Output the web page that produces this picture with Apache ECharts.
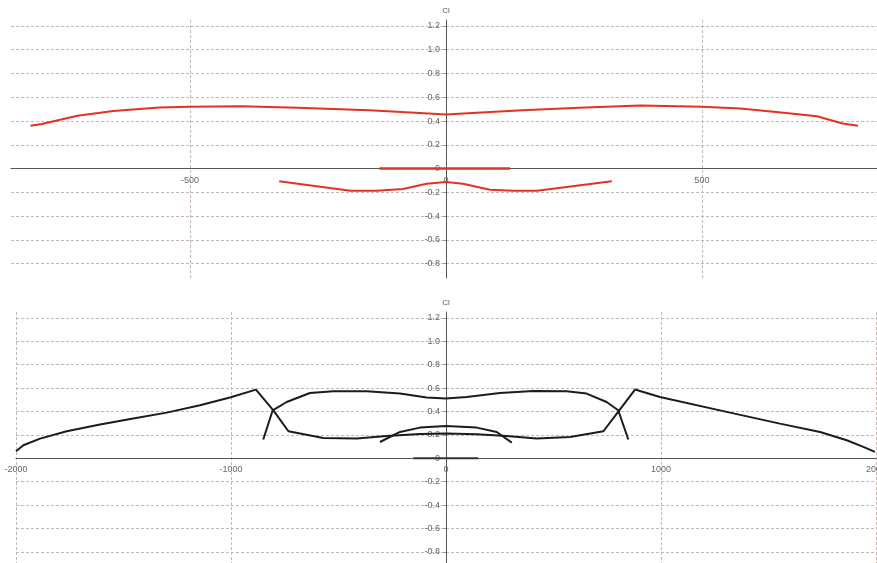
<!DOCTYPE html>
<html>
<head>
<meta charset="utf-8">
<script src="https://cdn.jsdelivr.net/npm/echarts@6/dist/echarts.min.js"></script>
<style>
  html, body { margin: 0; padding: 0; background: #fff; }
  #chart { width: 877px; height: 563px; }
</style>
</head>
<body>
<div id="chart"></div>
<script>
// top plot (red), x in [-850, 850]
const topUpper = [
  [-812, 0.36], [-790, 0.375], [-720, 0.445], [-650, 0.485], [-560, 0.515], [-500, 0.52],
  [-400, 0.525], [-290, 0.512], [-150, 0.49], [-60, 0.47], [0, 0.455], [60, 0.47],
  [150, 0.49], [260, 0.512], [380, 0.53], [500, 0.52], [575, 0.505], [650, 0.475],
  [725, 0.44], [775, 0.38], [805, 0.36]
];
const topLower = [
  [-326, -0.107], [-187, -0.186], [-135, -0.186], [-84, -0.172], [-38, -0.127], [0, -0.112],
  [33, -0.127], [86, -0.177], [131, -0.186], [178, -0.186], [324, -0.107]
];
const topFlat = [[-130, 0], [125, 0]];

// bottom plot (black), x in [-2000, 2000]
const botOuter = [
  [-2000, 0.06], [-1966, 0.111], [-1888, 0.168], [-1764, 0.231], [-1609, 0.288], [-1455, 0.339],
  [-1299, 0.39], [-1144, 0.453], [-1005, 0.519], [-884, 0.587], [-803, 0.41], [-733, 0.231],
  [-571, 0.174], [-415, 0.168], [-276, 0.191], [-121, 0.208], [0, 0.211], [143, 0.205],
  [282, 0.191], [422, 0.168], [577, 0.182], [732, 0.231], [806, 0.41], [879, 0.587],
  [995, 0.524], [1321, 0.39], [1553, 0.296], [1740, 0.225], [1864, 0.154], [1941, 0.097],
  [1995, 0.054]
];
const botLoop = [
  [-850, 0.16], [-806, 0.41], [-741, 0.481], [-633, 0.558], [-524, 0.573], [-369, 0.573],
  [-214, 0.553], [-90, 0.519], [0, 0.51], [96, 0.524], [251, 0.558], [406, 0.575],
  [561, 0.573], [654, 0.553], [747, 0.481], [801, 0.41], [848, 0.16]
];
const botArch = [
  [-307, 0.139], [-214, 0.225], [-121, 0.262], [0, 0.276], [143, 0.262], [236, 0.225], [306, 0.134]
];
const botFlat = [[-152, 0], [150, 0]];

const yTicks = [-0.8, -0.6, -0.4, -0.2, 0, 0.2, 0.4, 0.6, 0.8, 1.0, 1.2];
const topXTicks = [-500, 0, 500];

const gridLine = { show: true, lineStyle: { color: '#c4b8b1', type: [3, 2], width: 1 } };
const axLine = { onZero: false, lineStyle: { color: '#555', width: 1 } };
const lbl = { color: '#666', fontSize: 9, fontFamily: 'Liberation Sans, Arial, sans-serif' };
const yFmt = v => (v === 0 ? '0' : v.toFixed(1));
const xFmt = v => String(v);

// axes sit on the zero lines, moved in from the grid edges by offset
function yAx(grid, min, max, offset) {
  return {
    type: 'value', gridIndex: grid, min: min, max: max,
    position: 'left', offset: offset,
    name: 'Cl', nameLocation: 'end', nameGap: 5,
    nameTextStyle: { color: '#555', fontSize: 8 },
    axisLine: axLine,
    axisTick: { show: true, length: 3, lineStyle: { color: '#999' }, customValues: yTicks },
    axisLabel: Object.assign({ customValues: yTicks, formatter: yFmt, margin: 6 }, lbl),
    splitLine: gridLine
  };
}

function line(data, x, color, width) {
  return {
    type: 'line', xAxisIndex: x, yAxisIndex: x, data: data,
    showSymbol: false, symbol: 'none', silent: true,
    lineStyle: { color: color, width: width }
  };
}

const red = '#e5321f';
const black = '#1c1c1c';

const option = {
  animation: false,
  backgroundColor: '#fff',
  grid: [
    { left: 11, width: 870, top: 20, height: 258, outerBoundsMode: 'none', containLabel: false },
    { left: 16, width: 860, top: 312, height: 251, outerBoundsMode: 'none', containLabel: false }
  ],
  xAxis: [
    {
      type: 'value', gridIndex: 0, min: -850, max: 850,
      position: 'bottom', offset: -109.4,
      axisLine: axLine,
      axisTick: { show: false, customValues: topXTicks },
      axisLabel: Object.assign({ customValues: topXTicks, formatter: xFmt, margin: 7 }, lbl),
      splitLine: gridLine
    },
    {
      type: 'value', gridIndex: 1, min: -2000, max: 2000, interval: 1000,
      position: 'bottom', offset: -105,
      axisLine: axLine,
      axisTick: { show: false },
      axisLabel: Object.assign({ formatter: xFmt, margin: 7 }, lbl),
      splitLine: gridLine
    }
  ],
  yAxis: [yAx(0, -0.92, 1.25, -435), yAx(1, -0.895, 1.25, -430)],
  series: [
    line(topUpper, 0, red, 2),
    line(topLower, 0, red, 2),
    line(topFlat, 0, red, 2.5),
    line(botOuter, 1, black, 2),
    line(botLoop, 1, black, 2),
    line(botArch, 1, black, 2),
    line(botFlat, 1, '#333', 2)
  ]
};

const chart = echarts.init(document.getElementById('chart'));
chart.setOption(option);
</script>
</body>
</html>
